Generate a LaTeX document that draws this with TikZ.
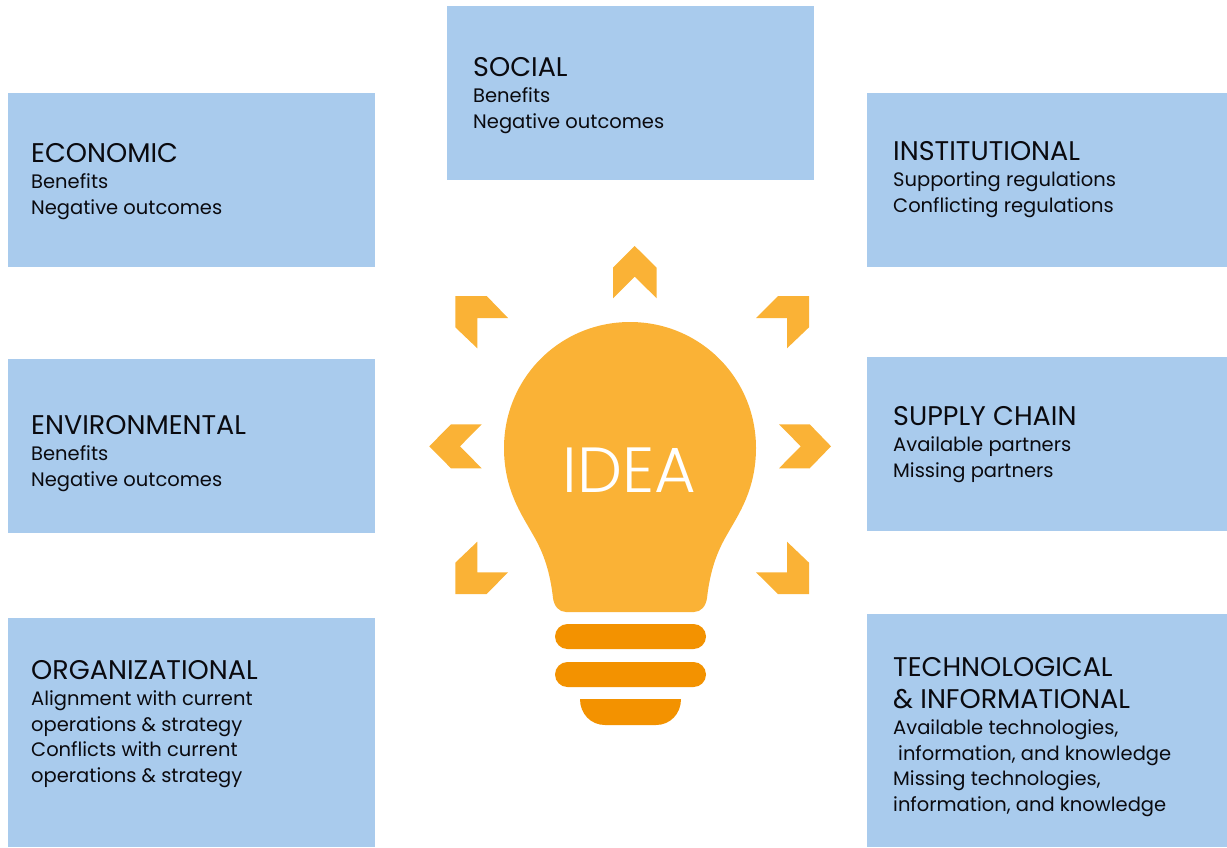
\documentclass[tikz,border=0pt]{standalone}
\usepackage{fontspec}
\setmainfont{Poppins}
\newfontfamily\ideafont{Poppins Light}
\definecolor{boxblue}{HTML}{A9CBED}
\definecolor{bulbyellow}{HTML}{FAB236}
\definecolor{baseorange}{HTML}{F39200}
\definecolor{inkblack}{HTML}{0A0A0F}
\newcommand{\hd}[1]{{\fontsize{27}{30}\selectfont #1}}
\tikzset{
  card/.style={fill=boxblue,draw=none,inner sep=0,anchor=north west},
  cardtext/.style={inner sep=0,anchor=north west,align=left,text=inkblack,font=\fontsize{19.5}{25.6}\selectfont},
  ray/.style={fill=bulbyellow,draw=none},
  socket/.style={fill=baseorange,draw=none}
}
\begin{document}
\begin{tikzpicture}[x=1pt,y=-1pt]
\useasboundingbox (0,0) rectangle (1227,847);
\node[card,minimum width=367pt,minimum height=174pt] (social) at (447,6) {};
\node[card,minimum width=367pt,minimum height=174pt] (economic) at (8,93) {};
\node[card,minimum width=360pt,minimum height=174pt] (institutional) at (867,93) {};
\node[card,minimum width=367pt,minimum height=174pt] (environmental) at (8,359) {};
\node[card,minimum width=360pt,minimum height=174pt] (supply) at (867,357) {};
\node[card,minimum width=367pt,minimum height=229pt] (organizational) at (8,618) {};
\node[card,minimum width=360pt,minimum height=233pt] (technological) at (867,614) {};

\node[cardtext] (socialt) at (473,57.6) {\hd{SOCIAL}\\Benefits\\Negative outcomes};
\node[cardtext] (economict) at (31,143.6) {\hd{ECONOMIC}\\Benefits\\Negative outcomes};
\node[cardtext] (institutionalt) at (893,141.6) {\hd{INSTITUTIONAL}\\Supporting regulations\\Conflicting regulations};
\node[cardtext] (environmentalt) at (31,415.6) {\hd{ENVIRONMENTAL}\\Benefits\\Negative outcomes};
\node[cardtext] (supplyt) at (893,406.6) {\hd{SUPPLY CHAIN}\\Available partners\\Missing partners};
\node[cardtext] (organizationalt) at (31,660.6) {\hd{ORGANIZATIONAL}\\Alignment with current\\operations \& strategy\\Conflicts with current\\operations \& strategy};
\node[cardtext] (technologicalt) at (893,657.6) {\hd{TECHNOLOGICAL}\\[6.4pt]\hd{\& INFORMATIONAL}\\Available technologies,\\\hspace*{5pt}information, and knowledge\\Missing technologies,\\information, and knowledge};

% rays
\fill[ray] (634.7,246) -- (656.7,267.7) -- (656.7,298.3) -- (634.7,276.7) -- (613,298.3) -- (613,267.7) -- cycle;
\fill[ray] (455.3,296) -- (486.7,296) -- (508,318) -- (477.3,318) -- (477.3,348.3) -- (455.3,327.3) -- cycle;
\fill[ray] (809,296) -- (778,296) -- (756,318) -- (787,318) -- (787,348.3) -- (809,327.3) -- cycle;
\fill[ray] (429.3,446.3) -- (451,424.3) -- (481.7,424.3) -- (460,446.3) -- (481.7,468.3) -- (451,468.3) -- cycle;
\fill[ray] (831,446.3) -- (809.7,424.3) -- (779,424.3) -- (800.7,446.3) -- (779,468.3) -- (809.7,468.3) -- cycle;
\fill[ray] (477.3,541.7) -- (477.3,572.3) -- (508,572.3) -- (486.7,594) -- (455.3,594) -- (455.3,562.7) -- cycle;
\fill[ray] (787,541.7) -- (787,572.3) -- (756,572.3) -- (778,594) -- (809,594) -- (809,562.7) -- cycle;

% bulb
\fill[ray] (630,322)
  .. controls (700,322) and (756,378) .. (756,448)
  .. controls (756,490) and (738,515) .. (728,533)
  .. controls (716,553) and (710,572) .. (707,598)
  .. controls (706,606) and (701,612) .. (694,612)
  -- (566,612)
  .. controls (559,612) and (554,606) .. (553,598)
  .. controls (550,572) and (544,553) .. (532,533)
  .. controls (522,515) and (504,490) .. (504,448)
  .. controls (504,378) and (560,322) .. (630,322) -- cycle;
\node[inner sep=0,anchor=base,text=white,font=\ideafont\fontsize{63.8}{70}\selectfont] (idea) at (629.5,492) {IDEA};

% socket
\fill[socket,rounded corners=12.5pt] (555,624) rectangle (706,649);
\fill[socket,rounded corners=12.5pt] (555,662) rectangle (706,687);
\fill[socket] (580,699) -- (681,699) .. controls (681,714) and (670,725) .. (656,725) -- (605,725) .. controls (591,725) and (580,714) .. (580,699) -- cycle;
\end{tikzpicture}
\end{document}
